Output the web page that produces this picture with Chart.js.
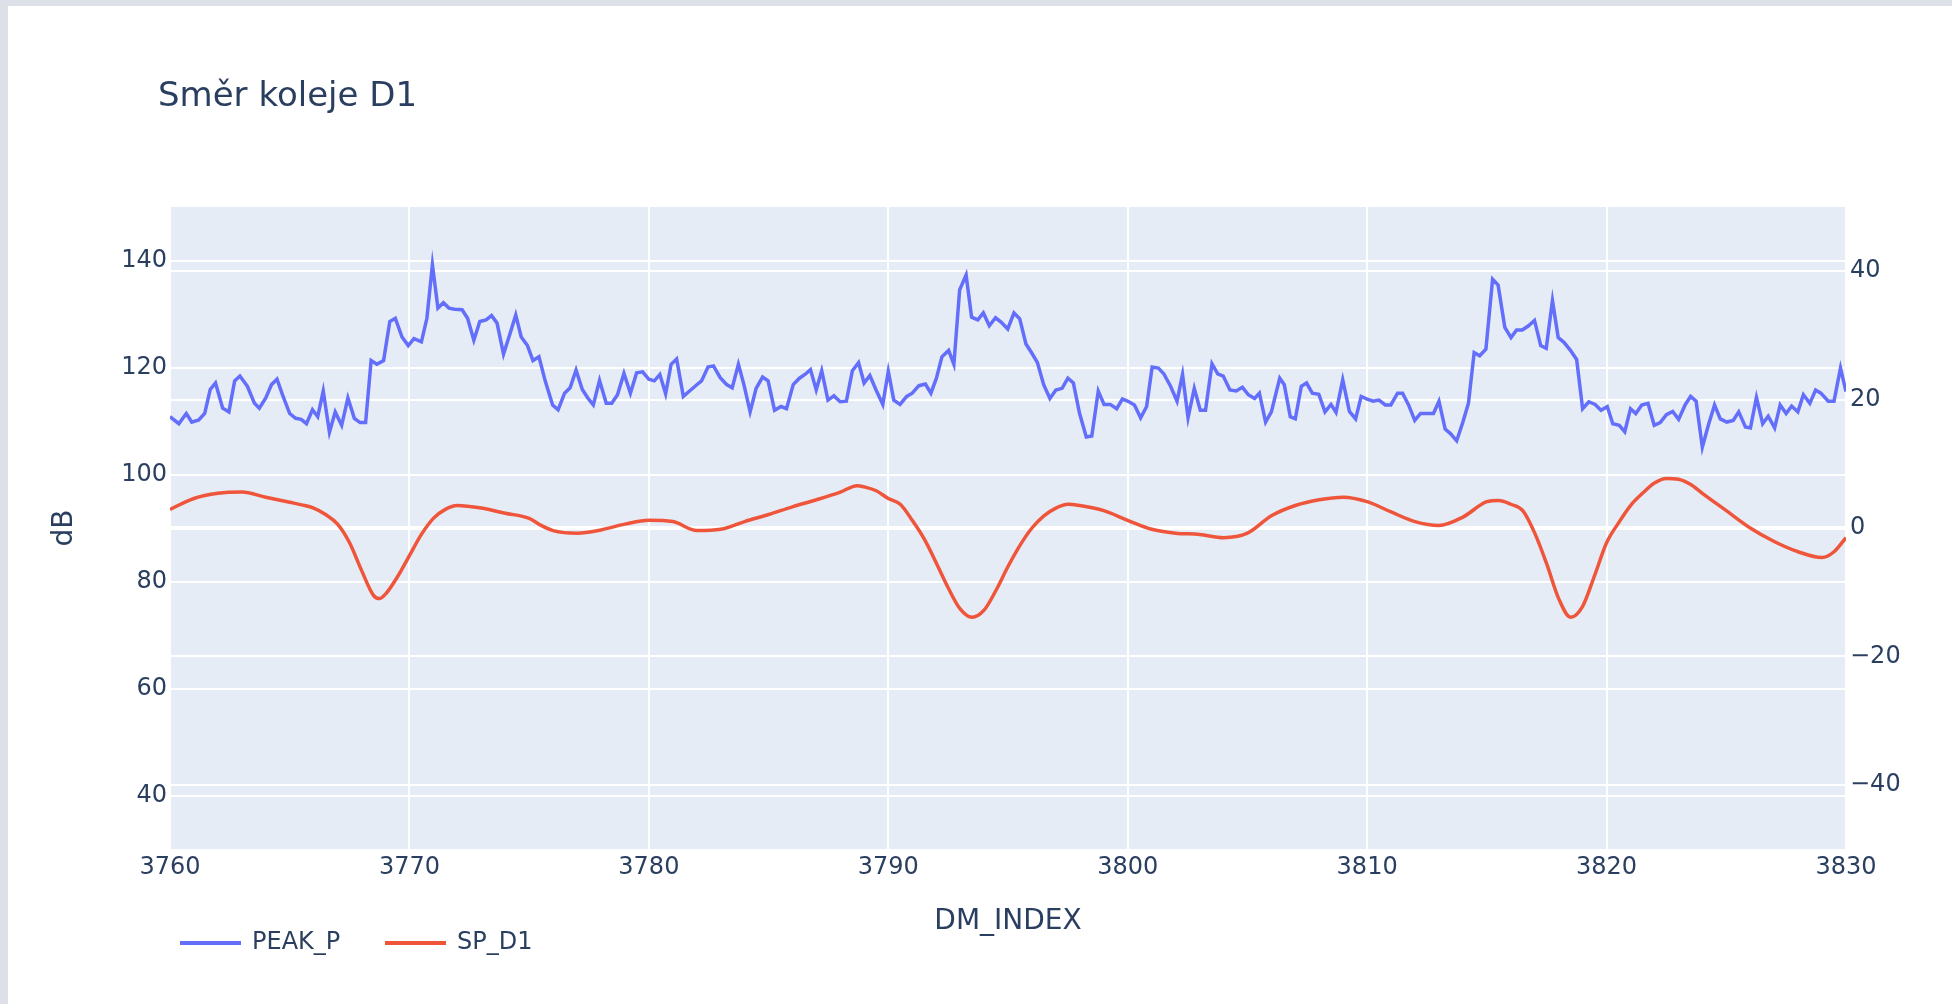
<!DOCTYPE html>
<html>
<head>
<meta charset="utf-8">
<title>Směr koleje D1</title>
<script src="https://cdn.jsdelivr.net/npm/chart.js@4.4.1/dist/chart.umd.min.js"></script>
<style>
  html, body { margin: 0; padding: 0; width: 1952px; height: 1004px; overflow: hidden; background: #dde1e7; }
  #card { position: absolute; left: 8px; top: 6px; right: 0; bottom: 0; background: #ffffff; }
  #chart { position: absolute; left: 0; top: 0; }
</style>
</head>
<body>
<div id="card"></div>
<canvas id="chart" width="1952" height="1004"></canvas>
<script>
// DM_INDEX positions and PEAK_P values (dB, left axis)
const peakIndex = [
  3760.00,3760.37,3760.68,3760.91,3761.20,3761.45,3761.68,3761.90,3762.20,3762.46,
  3762.70,3762.92,3763.23,3763.53,3763.73,3764.00,3764.24,3764.47,3764.70,3765.00,
  3765.25,3765.48,3765.70,3765.95,3766.17,3766.40,3766.66,3766.90,3767.17,3767.43,
  3767.70,3767.94,3768.17,3768.40,3768.64,3768.92,3769.18,3769.41,3769.69,3769.95,
  3770.19,3770.50,3770.73,3770.96,3771.19,3771.42,3771.65,3771.89,3772.20,3772.43,
  3772.69,3772.94,3773.20,3773.43,3773.66,3773.93,3774.20,3774.44,3774.67,3774.93,
  3775.16,3775.41,3775.67,3775.98,3776.21,3776.48,3776.71,3776.96,3777.22,3777.45,
  3777.68,3777.94,3778.22,3778.45,3778.69,3778.96,3779.23,3779.49,3779.74,3780.00,
  3780.23,3780.46,3780.70,3780.93,3781.16,3781.44,3781.70,3781.93,3782.20,3782.47,
  3782.70,3782.98,3783.25,3783.48,3783.74,3783.97,3784.23,3784.48,3784.75,3784.98,
  3785.25,3785.52,3785.75,3786.03,3786.29,3786.52,3786.75,3786.99,3787.22,3787.48,
  3787.73,3787.99,3788.25,3788.50,3788.76,3788.99,3789.23,3789.49,3789.77,3790.00,
  3790.23,3790.49,3790.77,3791.00,3791.28,3791.55,3791.78,3792.01,3792.24,3792.52,
  3792.74,3792.98,3793.25,3793.48,3793.74,3793.97,3794.22,3794.48,3794.71,3794.99,
  3795.25,3795.49,3795.75,3795.98,3796.23,3796.49,3796.75,3797.00,3797.26,3797.50,
  3797.73,3797.99,3798.27,3798.50,3798.77,3799.01,3799.27,3799.54,3799.78,3800.05,
  3800.28,3800.54,3800.79,3801.02,3801.28,3801.51,3801.79,3802.06,3802.29,3802.52,
  3802.78,3803.03,3803.25,3803.52,3803.76,3803.99,3804.27,3804.53,3804.79,3805.04,
  3805.30,3805.50,3805.76,3806.00,3806.35,3806.54,3806.79,3807.00,3807.25,3807.47,
  3807.71,3807.98,3808.24,3808.49,3808.70,3808.98,3809.26,3809.52,3809.75,3810.00,
  3810.25,3810.49,3810.76,3810.99,3811.27,3811.48,3811.73,3811.99,3812.23,3812.50,
  3812.77,3813.00,3813.26,3813.49,3813.74,3814.00,3814.23,3814.47,3814.70,3814.96,
  3815.24,3815.47,3815.75,3816.01,3816.24,3816.48,3816.74,3816.99,3817.25,3817.48,
  3817.74,3817.98,3818.22,3818.49,3818.75,3819.00,3819.26,3819.52,3819.77,3820.03,
  3820.26,3820.53,3820.76,3821.00,3821.22,3821.47,3821.73,3821.99,3822.24,3822.50,
  3822.76,3823.01,3823.28,3823.51,3823.74,3824.00,3824.25,3824.51,3824.75,3825.02,
  3825.29,3825.52,3825.80,3826.01,3826.26,3826.52,3826.75,3827.02,3827.25,3827.50,
  3827.73,3827.99,3828.22,3828.49,3828.73,3828.95,3829.26,3829.50,3829.77,3830.00
];
const peakP = [
  110.8,109.5,111.4,109.8,110.2,111.4,115.9,117.1,112.4,111.7,
  117.5,118.4,116.5,113.3,112.4,114.3,116.8,117.8,114.9,111.4,
  110.5,110.3,109.5,112.1,110.8,115.6,107.9,111.7,109.2,114.3,
  110.5,109.7,109.7,121.3,120.6,121.3,128.6,129.2,125.7,124.1,
  125.4,124.8,129.2,139.2,131.1,132.1,131.1,130.9,130.8,129.2,
  125.1,128.6,128.9,129.7,128.3,122.5,126.3,129.8,125.7,124.1,
  121.3,122.0,117.5,113.0,112.1,115.2,116.2,119.5,115.9,114.3,
  113.0,117.6,113.3,113.3,114.9,118.9,115.2,119.0,119.2,117.8,
  117.5,118.7,115.1,120.6,121.6,114.6,115.6,116.5,117.5,120.1,
  120.3,118.1,116.8,116.2,120.6,116.8,111.7,116.1,118.2,117.5,
  112.0,112.7,112.3,116.8,118.0,118.7,119.6,115.8,119.4,113.9,
  114.7,113.6,113.7,119.4,120.9,117.1,118.5,115.8,113.1,119.3,
  113.9,113.1,114.6,115.2,116.6,116.9,115.2,118.0,122.0,123.2,
  120.6,134.5,137.3,129.4,128.9,130.2,127.8,129.3,128.5,127.2,
  130.2,129.1,124.4,122.8,120.9,116.8,114.2,115.8,116.1,118.0,
  117.1,111.4,107.0,107.2,115.6,113.1,113.1,112.3,114.1,113.6,
  113.0,110.6,112.7,120.1,119.9,118.8,116.5,113.7,118.7,110.6,
  116.1,112.0,112.0,120.7,118.8,118.4,115.8,115.6,116.3,114.9,
  114.2,115.2,109.8,111.7,118.0,116.8,110.8,110.4,116.5,117.1,
  115.2,115.0,111.7,113.1,111.6,117.7,111.8,110.4,114.6,114.1,
  113.7,113.9,113.0,113.0,115.2,115.2,113.0,110.1,111.4,111.4,
  111.4,113.7,108.5,107.6,106.3,109.8,113.3,122.8,122.2,123.4,
  136.5,135.4,127.5,125.6,127.0,127.0,127.8,128.8,124.1,123.6,
  132.5,125.6,124.7,123.2,121.5,112.3,113.6,113.1,112.0,112.7,
  109.5,109.2,108.0,112.3,111.4,113.0,113.3,109.2,109.7,111.2,
  111.8,110.3,113.0,114.6,113.7,105.1,109.2,113.0,110.4,109.8,
  110.1,111.7,108.9,108.7,114.4,109.5,110.9,108.7,113.0,111.4,
  112.8,111.7,114.9,113.3,115.8,115.2,113.7,113.7,119.9,115.5
];

// DM_INDEX positions and SP_D1 values (right axis)
const spIndex = [
  3760,3761,3762,3763,3764,3765,3765.5,3766,3766.5,3767,3767.5,3768,3768.5,3768.75,
  3769,3769.5,3770,3770.5,3771,3771.5,3772,3773,3774,3775,3775.5,3776,3777,3778,
  3779,3780,3781,3782,3783,3784,3785,3786,3787,3788,3788.7,3789,3789.5,3790,3790.5,
  3791,3791.5,3792,3792.5,3793,3793.5,3794,3794.5,3795,3795.5,3796,3796.5,3797,
  3797.5,3798,3799,3800,3801,3802,3803,3804,3805,3806,3807,3808,3809,3810,3811,
  3812,3813,3814,3815,3815.5,3816,3816.5,3817,3817.5,3818,3818.5,3819,3819.5,3820,
  3820.5,3821,3821.5,3822,3822.5,3823,3823.5,3824,3825,3826,3827,3828,3829,3829.5,3830
];
const spD1 = [
  2.9,4.6,5.4,5.6,4.8,4.0,3.6,3.1,2.1,0.6,-2.3,-6.6,-10.5,-11.0,
  -10.3,-7.6,-4.3,-1.0,1.5,2.9,3.5,3.1,2.3,1.5,0.4,-0.4,-0.8,-0.3,
  0.6,1.2,1.0,-0.4,-0.2,1.0,2.1,3.3,4.4,5.6,6.6,6.4,5.8,4.6,3.7,
  1.2,-1.7,-5.4,-9.3,-12.6,-13.9,-12.8,-9.7,-6.0,-2.7,0.0,1.9,3.1,
  3.7,3.5,2.7,1.2,-0.2,-0.8,-1.0,-1.5,-0.8,1.9,3.5,4.4,4.8,4.1,2.5,
  1.0,0.4,1.7,4.1,4.3,3.7,2.7,-0.8,-5.6,-11.0,-13.9,-12.2,-7.4,-2.3,
  0.8,3.5,5.4,7.0,7.7,7.6,6.8,5.4,2.7,0.0,-2.1,-3.7,-4.6,-3.7,-1.5
];

// Axis ranges and tick labels
const xRange = [3760, 3830];
const xTicks = [3760, 3770, 3780, 3790, 3800, 3810, 3820, 3830];
const leftRange = [30, 150];
const leftTicks = [40, 60, 80, 100, 120, 140];
const rightRange = [-50, 50];
const rightTicks = [-40, -20, 0, 20, 40];

const titleText = 'Směr koleje D1';
const xTitle = 'DM_INDEX';
const yTitle = 'dB';

const FONT = '"DejaVu Sans", Verdana, sans-serif';
const TEXT = '#2a3f5f';
const BLUE = '#636efa';
const RED = '#ef553b';

function fixedTicks(values) {
  return scale => { scale.ticks = values.map(v => ({ value: v })); };
}
function fixedSize(prop, size) {
  return scale => {
    scale[prop] = size;
    scale.paddingTop = 0; scale.paddingBottom = 0;
    scale.paddingLeft = 0; scale.paddingRight = 0;
  };
}
const fmt = v => (v < 0 ? '\u2212' + Math.abs(v) : String(v));

// Plot area fill
const plotBackground = {
  id: 'plotBackground',
  beforeDraw(chart) {
    const { ctx, chartArea: a } = chart;
    ctx.save();
    ctx.fillStyle = '#e5ecf6';
    ctx.fillRect(a.left, a.top, a.right - a.left, a.bottom - a.top);
    ctx.restore();
  }
};

// Heading and horizontal legend row
const headingAndLegend = {
  id: 'headingAndLegend',
  afterDraw(chart) {
    const ctx = chart.ctx;
    ctx.save();
    ctx.fillStyle = TEXT;
    ctx.font = '34px ' + FONT;
    ctx.textBaseline = 'alphabetic';
    ctx.textAlign = 'left';
    ctx.fillText(titleText, 158, 106);

    const starts = [180, 385];
    const rowY = 943;
    chart.data.datasets.forEach((ds, i) => {
      const x = starts[i];
      ctx.strokeStyle = ds.borderColor;
      ctx.lineWidth = 4;
      ctx.beginPath();
      ctx.moveTo(x, rowY);
      ctx.lineTo(x + 61, rowY);
      ctx.stroke();
      ctx.fillStyle = TEXT;
      ctx.font = '24px ' + FONT;
      ctx.textBaseline = 'middle';
      ctx.fillText(ds.label, x + 72, rowY);
    });
    ctx.restore();
  }
};

new Chart(document.getElementById('chart'), {
  type: 'line',
  data: {
    datasets: [
      {
        label: 'PEAK_P',
        data: peakIndex.map((x, i) => ({ x, y: peakP[i] })),
        yAxisID: 'y',
        borderColor: BLUE,
        backgroundColor: BLUE,
        borderWidth: 3.5,
        pointRadius: 0,
        tension: 0,
        fill: false
      },
      {
        label: 'SP_D1',
        data: spIndex.map((x, i) => ({ x, y: spD1[i] })),
        yAxisID: 'y2',
        borderColor: RED,
        backgroundColor: RED,
        borderWidth: 3.5,
        pointRadius: 0,
        cubicInterpolationMode: 'monotone',
        fill: false
      }
    ]
  },
  options: {
    responsive: false,
    animation: false,
    layout: { padding: { top: 207, left: 0, right: 0, bottom: 0 } },
    plugins: {
      legend: { display: false },
      title: { display: false },
      tooltip: { enabled: false }
    },
    scales: {
      x: {
        type: 'linear',
        position: 'bottom',
        min: xRange[0],
        max: xRange[1],
        afterBuildTicks: fixedTicks(xTicks),
        afterFit: fixedSize('height', 155),
        border: { display: false },
        grid: { color: '#ffffff', lineWidth: 2, drawTicks: false },
        ticks: {
          color: TEXT,
          font: { family: FONT, size: 24 },
          padding: 4,
          maxRotation: 0,
          autoSkip: false,
          callback: v => fmt(v)
        },
        title: {
          display: true,
          text: xTitle,
          color: TEXT,
          font: { family: FONT, size: 28 },
          padding: { top: 0, bottom: 65 }
        }
      },
      y: {
        type: 'linear',
        position: 'left',
        min: leftRange[0],
        max: leftRange[1],
        afterBuildTicks: fixedTicks(leftTicks),
        afterFit: fixedSize('width', 170),
        border: { display: false },
        grid: { color: '#ffffff', lineWidth: 2, drawTicks: false },
        ticks: {
          color: TEXT,
          font: { family: FONT, size: 24 },
          padding: 3,
          callback: v => fmt(v)
        },
        title: {
          display: true,
          text: yTitle,
          color: TEXT,
          font: { family: FONT, size: 28 },
          padding: { top: 48, bottom: 0 }
        }
      },
      y2: {
        type: 'linear',
        position: 'right',
        min: rightRange[0],
        max: rightRange[1],
        afterBuildTicks: fixedTicks(rightTicks),
        afterFit: fixedSize('width', 106),
        border: { display: false },
        grid: {
          color: '#ffffff',
          lineWidth: c => (c.tick && c.tick.value === 0 ? 4 : 2),
          drawTicks: false
        },
        ticks: {
          color: TEXT,
          font: { family: FONT, size: 24 },
          padding: 4,
          callback: v => fmt(v)
        }
      }
    }
  },
  plugins: [plotBackground, headingAndLegend]
});
</script>
</body>
</html>
